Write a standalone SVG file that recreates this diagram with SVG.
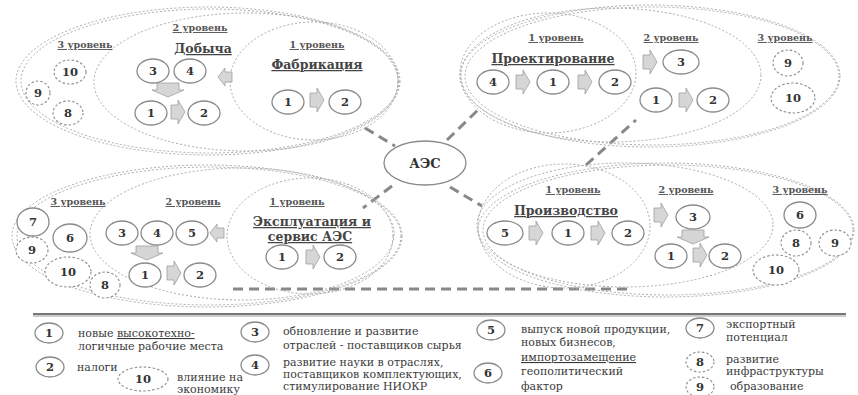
<svg xmlns="http://www.w3.org/2000/svg" xmlns:xlink="http://www.w3.org/1999/xlink" width="858" height="395" viewBox="0 0 858 395">
<style>
.c{fill:#fff;stroke:#8a8a8a;stroke-width:1.3}
.cd{fill:#fff;stroke:#8a8a8a;stroke-width:1.1;stroke-dasharray:2.5 2}
.n{font-family:"DejaVu Serif",serif;font-weight:bold;font-size:11.5px;fill:#333;text-anchor:middle}
.lv{font-family:"DejaVu Serif",serif;font-weight:bold;font-size:9.5px;fill:#555;text-anchor:middle;text-decoration:underline}
.tt{font-family:"DejaVu Serif",serif;font-weight:bold;font-size:12.5px;fill:#444;text-anchor:middle;text-decoration:underline}
.e{fill:none;stroke:#aaa;stroke-width:1;stroke-dasharray:2 2}
.lg{font-family:"DejaVu Serif",serif;font-size:11px;fill:#3a3a3a}
.arr{fill:#d6d6d6;stroke:#a0a0a0;stroke-width:0.8}
.dash{stroke:#888;stroke-width:3;stroke-dasharray:10 6;fill:none}
</style>
<defs>
<path id="aR" class="arr" d="M-7,-7 H0 V-12 L7,0 L0,12 V7 H-7 Z"/>
<path id="aL" class="arr" d="M7,-5 H0 V-9 L-7,0 L0,9 V5 H7 Z"/>
<path id="aD" class="arr" d="M-11,-7 H11 V0 H16 L0,7 L-16,0 H-11 Z"/>
</defs>

<g id="connectors">
<line class="dash" x1="365" y1="128" x2="395" y2="146"/>
<line class="dash" x1="447" y1="140" x2="481" y2="107"/>
<line class="dash" x1="586" y1="165" x2="636" y2="120"/>
<line class="dash" x1="392" y1="186" x2="363" y2="208"/>
<line class="dash" x1="450" y1="187" x2="482" y2="206"/>
<line class="dash" x1="233" y1="289" x2="628" y2="289"/>
</g>

<!-- Top-left: Фабрикация -->
<g id="cluster-fabrication">
<ellipse class="e" cx="208" cy="81" rx="192" ry="74"/>
<ellipse class="e" cx="210" cy="81" rx="189" ry="72"/>
<ellipse class="e" cx="246" cy="82" rx="152" ry="69"/>
<ellipse class="e" cx="314" cy="81" rx="84" ry="59"/>
<text class="lv" x="85" y="48">3 уровень</text>
<text class="lv" x="200" y="31">2 уровень</text>
<text class="tt" x="203" y="53">Добыча</text>
<text class="lv" x="317" y="48">1 уровень</text>
<text class="tt" x="317" y="69">Фабрикация</text>
<g id="tl-10"><ellipse class="cd" cx="70" cy="72" rx="16" ry="12"/><text class="n" x="70" y="76">10</text></g>
<g id="tl-9"><ellipse class="cd" cx="38" cy="93" rx="12" ry="12"/><text class="n" x="38" y="97">9</text></g>
<g id="tl-8"><ellipse class="cd" cx="68" cy="113" rx="15" ry="12"/><text class="n" x="68" y="117">8</text></g>
<g id="tl-3"><ellipse class="c" cx="153" cy="71" rx="16" ry="12"/><text class="n" x="153" y="75">3</text></g>
<g id="tl-4"><ellipse class="c" cx="190" cy="71" rx="16" ry="12"/><text class="n" x="190" y="75">4</text></g>
<use xlink:href="#aL" x="225" y="77"/>
<use xlink:href="#aD" x="168" y="90"/>
<g id="tl-1"><ellipse class="c" cx="151" cy="113" rx="16" ry="12"/><text class="n" x="151" y="117">1</text></g>
<use xlink:href="#aR" x="178" y="112"/>
<g id="tl-2"><ellipse class="c" cx="204" cy="113" rx="16" ry="12"/><text class="n" x="204" y="117">2</text></g>
<g id="tl-l1-1"><ellipse class="c" cx="288" cy="102" rx="16" ry="12"/><text class="n" x="288" y="106">1</text></g>
<use xlink:href="#aR" x="317" y="100"/>
<g id="tl-l1-2"><ellipse class="c" cx="345" cy="102" rx="16" ry="12"/><text class="n" x="345" y="106">2</text></g>
</g>

<!-- Top-right: Проектирование -->
<g id="cluster-design">
<ellipse class="e" cx="650" cy="76" rx="190" ry="71"/>
<ellipse class="e" cx="652" cy="76" rx="187" ry="69"/>
<ellipse class="e" cx="611" cy="75" rx="150" ry="67"/>
<ellipse class="e" cx="548" cy="73" rx="88" ry="60"/>
<text class="lv" x="556" y="41">1 уровень</text>
<text class="tt" x="553" y="63">Проектирование</text>
<text class="lv" x="671" y="41">2 уровень</text>
<text class="lv" x="785" y="41">3 уровень</text>
<g id="tr-4"><ellipse class="c" cx="493" cy="82" rx="16" ry="12"/><text class="n" x="493" y="86">4</text></g>
<use xlink:href="#aR" x="523" y="82"/>
<g id="tr-1"><ellipse class="c" cx="553" cy="82" rx="16" ry="12"/><text class="n" x="553" y="86">1</text></g>
<use xlink:href="#aR" x="585" y="82"/>
<g id="tr-2"><ellipse class="c" cx="615" cy="82" rx="16" ry="12"/><text class="n" x="615" y="86">2</text></g>
<use xlink:href="#aR" x="650" y="62"/>
<g id="tr-3"><ellipse class="c" cx="681" cy="62" rx="18" ry="12"/><text class="n" x="681" y="66">3</text></g>
<g id="tr-l2-1"><ellipse class="c" cx="656" cy="100" rx="16" ry="12"/><text class="n" x="656" y="104">1</text></g>
<use xlink:href="#aR" x="686" y="100"/>
<g id="tr-l2-2"><ellipse class="c" cx="713" cy="100" rx="16" ry="12"/><text class="n" x="713" y="104">2</text></g>
<g id="tr-9"><ellipse class="cd" cx="788" cy="63" rx="15" ry="13"/><text class="n" x="788" y="67">9</text></g>
<g id="tr-10"><ellipse class="cd" cx="793" cy="98" rx="22" ry="15"/><text class="n" x="793" y="102">10</text></g>
</g>

<!-- Bottom-left: Эксплуатация -->
<g id="cluster-operation">
<ellipse class="e" cx="207" cy="236" rx="195" ry="71"/>
<ellipse class="e" cx="209" cy="236" rx="192" ry="69"/>
<ellipse class="e" cx="242" cy="234" rx="152" ry="66"/>
<ellipse class="e" cx="310" cy="236" rx="83" ry="58"/>
<text class="lv" x="78" y="205">3 уровень</text>
<text class="lv" x="193" y="205">2 уровень</text>
<text class="lv" x="297" y="205">1 уровень</text>
<text class="tt" x="312" y="226">Эксплуатация и</text>
<text class="tt" x="310" y="241">сервис АЭС</text>
<g id="bl-7"><ellipse class="c" cx="33" cy="222" rx="16" ry="14"/><text class="n" x="33" y="226">7</text></g>
<g id="bl-6"><ellipse class="c" cx="70" cy="238" rx="17" ry="14"/><text class="n" x="70" y="242">6</text></g>
<g id="bl-9"><ellipse class="cd" cx="32" cy="250" rx="16" ry="13"/><text class="n" x="32" y="254">9</text></g>
<g id="bl-10"><ellipse class="cd" cx="68" cy="272" rx="23" ry="15"/><text class="n" x="68" y="276">10</text></g>
<g id="bl-8"><ellipse class="cd" cx="105" cy="285" rx="15" ry="13"/><text class="n" x="105" y="289">8</text></g>
<g id="bl-3"><ellipse class="c" cx="122" cy="233" rx="16" ry="12"/><text class="n" x="122" y="237">3</text></g>
<g id="bl-4"><ellipse class="c" cx="157" cy="233" rx="16" ry="12"/><text class="n" x="157" y="237">4</text></g>
<g id="bl-5"><ellipse class="c" cx="192" cy="233" rx="16" ry="12"/><text class="n" x="192" y="237">5</text></g>
<use xlink:href="#aL" x="217" y="233"/>
<use xlink:href="#aD" x="147" y="253"/>
<g id="bl-1"><ellipse class="c" cx="145" cy="275" rx="16" ry="12"/><text class="n" x="145" y="279">1</text></g>
<use xlink:href="#aR" x="174" y="273"/>
<g id="bl-2"><ellipse class="c" cx="200" cy="275" rx="16" ry="12"/><text class="n" x="200" y="279">2</text></g>
<g id="bl-l1-1"><ellipse class="c" cx="282" cy="257" rx="16" ry="12"/><text class="n" x="282" y="261">1</text></g>
<use xlink:href="#aR" x="313" y="257"/>
<g id="bl-l1-2"><ellipse class="c" cx="340" cy="257" rx="16" ry="12"/><text class="n" x="340" y="261">2</text></g>
</g>

<!-- Bottom-right: Производство -->
<g id="cluster-production">
<ellipse class="e" cx="666" cy="230" rx="188" ry="67"/>
<ellipse class="e" cx="668" cy="230" rx="185" ry="65"/>
<ellipse class="e" cx="625" cy="225" rx="148" ry="62"/>
<ellipse class="e" cx="564" cy="226" rx="86" ry="62"/>
<text class="lv" x="573" y="193">1 уровень</text>
<text class="tt" x="566" y="215">Производство</text>
<text class="lv" x="686" y="193">2 уровень</text>
<text class="lv" x="800" y="193">3 уровень</text>
<g id="br-5"><ellipse class="c" cx="505" cy="233" rx="18" ry="12"/><text class="n" x="505" y="237">5</text></g>
<use xlink:href="#aR" x="536" y="233"/>
<g id="br-1"><ellipse class="c" cx="568" cy="233" rx="16" ry="12"/><text class="n" x="568" y="237">1</text></g>
<use xlink:href="#aR" x="598" y="233"/>
<g id="br-2"><ellipse class="c" cx="628" cy="233" rx="16" ry="12"/><text class="n" x="628" y="237">2</text></g>
<use xlink:href="#aR" x="661" y="215"/>
<g id="br-3"><ellipse class="c" cx="693" cy="217" rx="17" ry="12"/><text class="n" x="693" y="221">3</text></g>
<use xlink:href="#aD" x="693" y="237"/>
<g id="br-l2-1"><ellipse class="c" cx="671" cy="256" rx="16" ry="12"/><text class="n" x="671" y="260">1</text></g>
<use xlink:href="#aR" x="700" y="255"/>
<g id="br-l2-2"><ellipse class="c" cx="725" cy="256" rx="16" ry="12"/><text class="n" x="725" y="260">2</text></g>
<g id="br-6"><ellipse class="c" cx="800" cy="215" rx="16" ry="13"/><text class="n" x="800" y="219">6</text></g>
<g id="br-8"><ellipse class="cd" cx="796" cy="243" rx="15" ry="13"/><text class="n" x="796" y="247">8</text></g>
<g id="br-9"><ellipse class="cd" cx="835" cy="243" rx="16" ry="13"/><text class="n" x="835" y="247">9</text></g>
<g id="br-10"><ellipse class="cd" cx="776" cy="270" rx="23" ry="15"/><text class="n" x="776" y="274">10</text></g>
</g>

<g id="aes">
<ellipse class="c" cx="425" cy="163" rx="41" ry="22"/>
<text class="n" x="425" y="168" style="font-size:13px">АЭС</text>
</g>

<g id="separator">
<line x1="33" y1="316" x2="846" y2="316" stroke="#ccc" stroke-width="2"/>
<line x1="33" y1="314" x2="846" y2="314" stroke="#777" stroke-width="2"/>
</g>

<g id="legend">
<g id="lg-1"><ellipse class="c" cx="49" cy="333" rx="14" ry="10"/><text class="n" x="49" y="337">1</text>
<text class="lg" x="78" y="337">новые <tspan style="text-decoration:underline">высокотехно-</tspan></text>
<text class="lg" x="78" y="350">логичные рабочие места</text></g>
<g id="lg-2"><ellipse class="c" cx="50" cy="367" rx="14" ry="10"/><text class="n" x="50" y="371">2</text>
<text class="lg" x="77" y="371">налоги</text></g>
<g id="lg-10"><ellipse class="cd" cx="143" cy="379" rx="25" ry="12"/><text class="n" x="143" y="383">10</text>
<text class="lg" x="177" y="381">влияние на</text>
<text class="lg" x="177" y="393">экономику</text></g>
<g id="lg-3"><ellipse class="c" cx="255" cy="332" rx="14" ry="10"/><text class="n" x="255" y="336">3</text>
<text class="lg" x="283" y="335">обновление и развитие</text>
<text class="lg" x="283" y="349">отраслей  - поставщиков сырья</text></g>
<g id="lg-4"><ellipse class="c" cx="255" cy="365" rx="14" ry="10"/><text class="n" x="255" y="369">4</text>
<text class="lg" x="283" y="366">развитие науки в отраслях,</text>
<text class="lg" x="283" y="378">поставщиков комплектующих,</text>
<text class="lg" x="283" y="390">стимулирование НИОКР</text></g>
<g id="lg-5"><ellipse class="c" cx="491" cy="330" rx="14" ry="10"/><text class="n" x="491" y="334">5</text>
<text class="lg" x="521" y="333">выпуск новой продукции,</text>
<text class="lg" x="521" y="346">новых бизнесов,</text>
<text class="lg" x="521" y="361" style="text-decoration:underline">импортозамещение</text></g>
<g id="lg-6"><ellipse class="c" cx="488" cy="373" rx="14" ry="10"/><text class="n" x="488" y="377">6</text>
<text class="lg" x="521" y="375">геополитический</text>
<text class="lg" x="521" y="390">фактор</text></g>
<g id="lg-7"><ellipse class="c" cx="700" cy="328" rx="14" ry="10"/><text class="n" x="700" y="332">7</text>
<text class="lg" x="726" y="328">экспортный</text>
<text class="lg" x="726" y="341">потенциал</text></g>
<g id="lg-8"><ellipse class="cd" cx="700" cy="362" rx="14" ry="10"/><text class="n" x="700" y="366">8</text>
<text class="lg" x="726" y="363">развитие</text>
<text class="lg" x="726" y="375">инфраструктуры</text></g>
<g id="lg-9"><ellipse class="cd" cx="700" cy="387" rx="14" ry="10"/><text class="n" x="700" y="391">9</text>
<text class="lg" x="730" y="390">образование</text></g>
</g>
</svg>
